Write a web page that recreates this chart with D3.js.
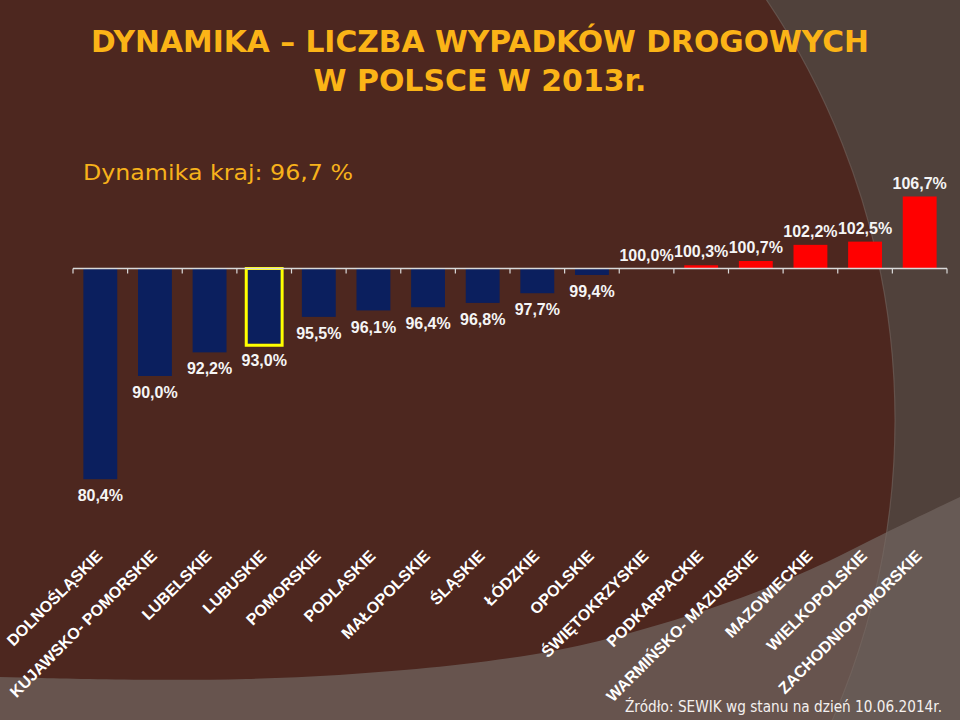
<!DOCTYPE html>
<html><head><meta charset="utf-8">
<script src="https://cdn.jsdelivr.net/npm/d3@7"></script>
<style>html,body{margin:0;padding:0;background:#4d271f;}svg{display:block;}</style>
</head><body>
<svg id="chart" width="960" height="720"></svg>
<script>
const categories = ["DOLNOŚLĄSKIE","KUJAWSKO- POMORSKIE","LUBELSKIE","LUBUSKIE","POMORSKIE","PODLASKIE","MAŁOPOLSKIE","ŚLĄSKIE","ŁÓDZKIE","OPOLSKIE","ŚWIĘTOKRZYSKIE","PODKARPACKIE","WARMIŃSKO- MAZURSKIE","MAZOWIECKIE","WIELKOPOLSKIE","ZACHODNIOPOMORSKIE"];
const values = [80.4,90.0,92.2,93.0,95.5,96.1,96.4,96.8,97.7,99.4,100.0,100.3,100.7,102.2,102.5,106.7];
const valueLabels = ["80,4%","90,0%","92,2%","93,0%","95,5%","96,1%","96,4%","96,8%","97,7%","99,4%","100,0%","100,3%","100,7%","102,2%","102,5%","106,7%"];
const highlighted = ["LUBUSKIE"];
const baseline = 100;
const titleLines = ["DYNAMIKA – LICZBA WYPADKÓW DROGOWYCH","W POLSCE W 2013r."];
const subtitle = "Dynamika kraj: 96,7 %";
const source = "Źródło: SEWIK wg stanu na dzień 10.06.2014r.";

const svg = d3.select("#chart");
const W = 960, H = 720;
const comic = "'DejaVu Sans',sans-serif";

// background
svg.append("rect").attr("width",W).attr("height",H).attr("fill","#50413b");
svg.append("circle").attr("cx",145).attr("cy",420).attr("r",750).attr("fill","#4d271f");
const band = d3.line().curve(d3.curveBasis)([[0,677],[250,683],[480,665],[600,643],[720,607],[813,570],[880,535],[960,497]]);
svg.append("path").attr("d", band + " L960,720 L0,720 Z").attr("fill","#6e625c").attr("fill-opacity",0.78);
svg.append("circle").attr("cx",145).attr("cy",420).attr("r",750).attr("fill","none")
  .attr("stroke","#7a6b65").attr("stroke-opacity",0.5).attr("stroke-width",1.2);

// titles
titleLines.forEach((t,i)=>{
  svg.append("text").attr("x",480).attr("y",[52,91][i]).attr("text-anchor","middle")
    .attr("font-family",comic).attr("font-weight","bold").attr("font-size",31)
    .attr("fill","#fbb417").attr("textLength",[778,333][i]).attr("lengthAdjust","spacingAndGlyphs").text(t);
});
svg.append("text").attr("x",83).attr("y",180).attr("font-family",comic).attr("font-size",21.5)
  .attr("fill","#f7b21b").attr("textLength",270).attr("lengthAdjust","spacingAndGlyphs").text(subtitle);
svg.append("text").attr("x",625).attr("y",712).attr("font-family",comic).attr("font-size",15)
  .attr("fill","#f4f0ee").attr("textLength",317).attr("lengthAdjust","spacingAndGlyphs").text(source);

// scales
const x = d3.scaleBand().domain(categories).range([73,947]).paddingInner(0.38).paddingOuter(0.19);
const pxPerUnit = 10.75;
const y = d3.scaleLinear().domain([78,108]).range([268.5+22*pxPerUnit, 268.5-8*pxPerUnit]);

// bars
const g = svg.append("g");
g.selectAll("rect.bar").data(categories).join("rect").attr("class","bar")
  .attr("x",d=>x(d)).attr("width",x.bandwidth())
  .attr("y",(d,i)=>Math.min(y(values[i]),y(baseline)))
  .attr("height",(d,i)=>Math.abs(y(values[i])-y(baseline)))
  .attr("fill",(d,i)=>values[i]<baseline?"#0b1f5e":"#ff0000");

// highlight
g.selectAll("rect.hl").data(highlighted).join("rect").attr("class","hl")
  .attr("x",d=>x(d)-1).attr("width",x.bandwidth()+2)
  .attr("y",y(baseline)).attr("height",d=>y(values[categories.indexOf(d)])-y(baseline)+1.5)
  .attr("fill","none").attr("stroke","#ffff00").attr("stroke-width",3);

// axis line and ticks
const step = x.step();
const bounds = d3.range(categories.length+1).map(i=>x(categories[0]) - step*x.paddingOuter() + i*step);
g.append("line").attr("x1",bounds[0]).attr("x2",bounds[bounds.length-1])
  .attr("y1",y(baseline)).attr("y2",y(baseline)).attr("stroke","#d9d9d9").attr("stroke-width",1.3);
g.selectAll("line.tick").data(bounds).join("line").attr("class","tick")
  .attr("x1",d=>d).attr("x2",d=>d).attr("y1",y(baseline)).attr("y2",y(baseline)+5)
  .attr("stroke","#d9d9d9").attr("stroke-width",1.2);

// value labels
g.selectAll("text.val").data(categories).join("text").attr("class","val")
  .attr("x",d=>x(d)+x.bandwidth()/2)
  .attr("y",(d,i)=>values[i]<baseline? y(values[i])+16.5 : y(values[i])-13.5)
  .attr("dy","0.35em").attr("text-anchor","middle")
  .attr("font-family","Liberation Sans, Arial, sans-serif").attr("font-weight","bold").attr("font-size",16)
  .attr("fill","#f5f5f5").text((d,i)=>valueLabels[i]);

// category labels
g.selectAll("text.cat").data(categories).join("text").attr("class","cat")
  .attr("transform",d=>`translate(${x(d)+x.bandwidth()/2+3},${557}) rotate(-45)`)
  .attr("text-anchor","end")
  .attr("font-family","Liberation Sans, Arial, sans-serif").attr("font-weight","bold").attr("font-size",16)
  .attr("fill","#ffffff").text(d=>d);
</script>
</body></html>
